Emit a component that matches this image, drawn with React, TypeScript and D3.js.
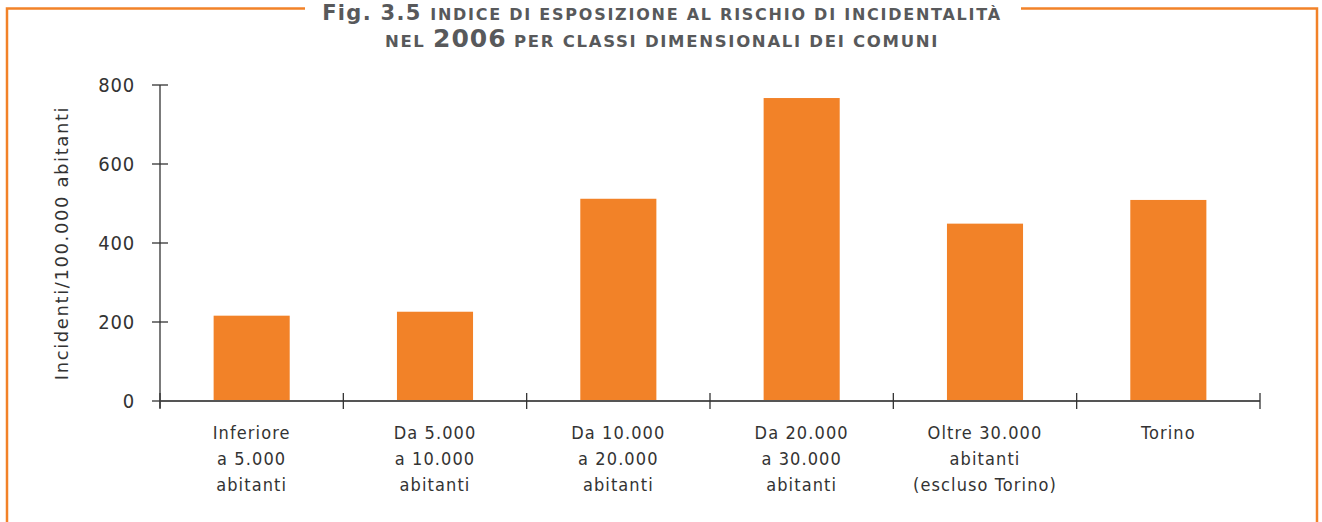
import React from "react";
import * as d3 from "d3";

const categories = [
  ["Inferiore", "a 5.000", "abitanti"],
  ["Da 5.000", "a 10.000", "abitanti"],
  ["Da 10.000", "a 20.000", "abitanti"],
  ["Da 20.000", "a 30.000", "abitanti"],
  ["Oltre 30.000", "abitanti", "(escluso Torino)"],
  ["Torino"],
];
const values = [216, 226, 512, 767, 449, 509];
const yTicks = [0, 200, 400, 600, 800];
const yLabel = "Incidenti/100.000 abitanti";

const ORANGE = "#F28228";
const TEXT = "#333333";
const TITLE = "#58595b";
const FONT = "'DejaVu Sans Condensed', 'DejaVu Sans', sans-serif";
const TITLE_FONT = "'DejaVu Sans', sans-serif";

const App = () => {
  const width = 1322;
  const height = 522;
  const margin = { top: 85, right: 62, bottom: 121, left: 160 };
  const innerW = width - margin.left - margin.right;
  const innerH = height - margin.top - margin.bottom;

  const keys = categories.map((c, i) => String(i));
  const x = d3.scaleBand().domain(keys).range([0, innerW]);
  const y = d3.scaleLinear().domain([0, 800]).range([innerH, 0]);
  const barW = x.bandwidth() * 0.415;

  return (
    <svg
      width={width}
      height={height}
      style={{ position: "absolute", left: 0, top: 0, background: "#fff" }}
      fontFamily={FONT}
    >
      {/* frame */}
      <path d="M305,8.5 H7 V530" fill="none" stroke={ORANGE} strokeWidth={2.5} />
      <path d="M1021,8.5 H1317 V530" fill="none" stroke={ORANGE} strokeWidth={2.5} />

      {/* title */}
      <g fontFamily={TITLE_FONT} fill={TITLE} fontWeight="bold" textAnchor="middle">
        <text x={662} y={19.5} fontSize={16} letterSpacing={1.75}>
          <tspan fontSize={21} letterSpacing={1.3}>Fig. 3.5 </tspan>
          <tspan>INDICE DI ESPOSIZIONE AL RISCHIO DI INCIDENTALITÀ</tspan>
        </text>
        <text x={662} y={47} fontSize={16.5} letterSpacing={1.7}>
          <tspan>NEL </tspan>
          <tspan fontSize={25} letterSpacing={1}>2006</tspan>
          <tspan> PER CLASSI DIMENSIONALI DEI COMUNI</tspan>
        </text>
      </g>

      <g transform={`translate(${margin.left},${margin.top})`}>
        {/* bars */}
        {values.map((v, i) => (
          <rect
            key={i}
            x={(x(String(i)) as number) + (x.bandwidth() - barW) / 2}
            y={y(v)}
            width={barW}
            height={innerH - y(v)}
            fill={ORANGE}
          />
        ))}

        {/* y axis */}
        <line x1={0} x2={0} y1={y(800)} y2={innerH + 7} stroke={TEXT} strokeWidth={1.3} />
        {yTicks.map((t) => (
          <g key={t} transform={`translate(0,${y(t)})`}>
            <line x1={-8} x2={8} stroke={TEXT} strokeWidth={1.3} />
            <text x={-25} dy="0.36em" textAnchor="end" fill={TEXT} fontSize={20} letterSpacing={0.8}>
              {t}
            </text>
          </g>
        ))}

        {/* x axis */}
        <line x1={0} x2={innerW} y1={innerH} y2={innerH} stroke="#555" strokeWidth={2} />
        {keys.concat(["end"]).map((k, i) => {
          const px = i < keys.length ? (x(k) as number) : innerW;
          return (
            <line key={k} x1={px} x2={px} y1={innerH - 8} y2={innerH + 8} stroke={TEXT} strokeWidth={1.3} />
          );
        })}
        {categories.map((lines, i) => {
          const cx = (x(String(i)) as number) + x.bandwidth() / 2;
          return (
            <text key={i} x={cx} y={innerH + 38} textAnchor="middle" fill={TEXT} fontSize={18} letterSpacing={1.1}>
              {lines.map((l, j) => (
                <tspan key={j} x={cx} dy={j === 0 ? 0 : 26}>
                  {l}
                </tspan>
              ))}
            </text>
          );
        })}

        {/* y label */}
        <text
          transform={`translate(-98,${innerH / 2}) rotate(-90)`}
          textAnchor="middle"
          dy="0.35em"
          fill={TEXT}
          fontFamily={TITLE_FONT}
          fontSize={18}
          letterSpacing={1.6}
        >
          {yLabel}
        </text>
      </g>
    </svg>
  );
};

export default App;
